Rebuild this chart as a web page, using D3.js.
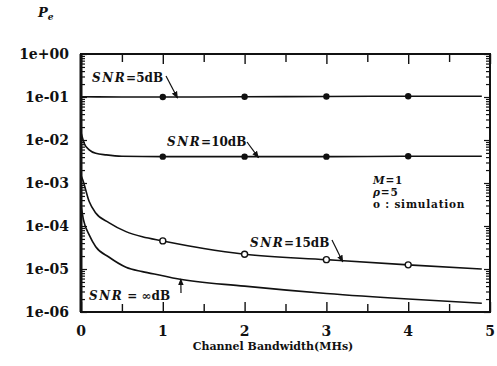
<!DOCTYPE html>
<html>
<head>
<meta charset="utf-8">
<script src="https://cdn.jsdelivr.net/npm/d3@7"></script>
<style>
  html, body { margin: 0; padding: 0; background: #fff; }
  svg { display: block; }
  text { font-family: "DejaVu Serif", serif; font-weight: bold; fill: #111; }
</style>
</head>
<body>
<svg id="chart" width="497" height="366"></svg>
<script>
// Error probability vs channel bandwidth for several SNR values
const xTickValues = [0, 1, 2, 3, 4, 5];
const yTickValues = [1, 1e-1, 1e-2, 1e-3, 1e-4, 1e-5, 1e-6];
const yTickLabels = ["1e+00", "1e-01", "1e-02", "1e-03", "1e-04", "1e-05", "1e-06"];

// analytic curves
const snr5X   = [0, 0.5, 1, 2, 3, 4, 4.9];
const snr5Y   = [0.101, 0.1, 0.1, 0.101, 0.103, 0.104, 0.104];
const snr10X  = [0, 0.04, 0.1, 0.18, 0.31, 0.5, 1, 2, 3, 4, 4.9];
const snr10Y  = [0.015, 0.0083, 0.0059, 0.0049, 0.0045, 0.0042, 0.0041, 0.0041, 0.0041, 0.0042, 0.0042];
const snr15X  = [0, 0.02, 0.1, 0.18, 0.34, 0.55, 0.75, 1, 1.5, 2, 3, 4, 4.9];
const snr15Y  = [1.5e-3, 1.2e-3, 3.7e-4, 2.0e-4, 1.2e-4, 7.4e-5, 5.6e-5, 4.5e-5, 3.0e-5, 2.2e-5, 1.65e-5, 1.25e-5, 1.0e-5];
const snrInfX = [0, 0.03, 0.1, 0.18, 0.34, 0.55, 0.75, 1, 1.16, 2, 3, 4, 4.9];
const snrInfY = [3e-4, 1.4e-4, 6.2e-5, 3.3e-5, 1.9e-5, 1.1e-5, 8.7e-6, 7.0e-6, 6.0e-6, 4.0e-6, 2.7e-6, 2.0e-6, 1.6e-6];

// simulation points
const simX     = [1, 2, 3, 4];
const sim5Y    = [0.1, 0.101, 0.103, 0.104];
const sim10Y   = [0.0041, 0.0041, 0.0041, 0.0042];
const sim15Y   = [4.5e-5, 2.2e-5, 1.65e-5, 1.25e-5];

const W = 497, H = 366;
const margin = { left: 81, top: 54, right: 7, bottom: 54 };
const svg = d3.select("#chart");

const x = d3.scaleLinear().domain([0, 5]).range([margin.left, W - margin.right]);
const y = d3.scaleLog().domain([1e-6, 1]).range([H - margin.bottom, margin.top]);

const x0 = x.range()[0], x1 = x.range()[1];
const yTop = y.range()[1], yBot = y.range()[0];

// minor decade ticks on both sides
const minorY = [];
for (let e = -6; e < 0; e++) for (let m = 2; m <= 9; m++) minorY.push(m * Math.pow(10, e));

// left & right y ticks (inward)
const leftAxis = d3.axisRight(y).tickValues(yTickValues).tickSize(6).tickFormat("");
const leftMinor = d3.axisRight(y).tickValues(minorY).tickSize(4).tickFormat("");
const rightAxis = d3.axisLeft(y).tickValues(yTickValues).tickSize(6).tickFormat("");
const rightMinor = d3.axisLeft(y).tickValues(minorY).tickSize(4).tickFormat("");
[[leftAxis, x0], [leftMinor, x0], [rightAxis, x1], [rightMinor, x1]].forEach(([ax, px]) => {
  const g = svg.append("g").attr("transform", `translate(${px},0)`).call(ax);
  g.select(".domain").remove();
  g.selectAll("line").attr("stroke", "#111").attr("stroke-width", 1.2);
});

// bottom & top x ticks (inward)
const minorX = [0.5, 1.5, 2.5, 3.5, 4.5];
const bottomMajor = d3.axisTop(x).tickValues(xTickValues).tickSize(10).tickFormat("");
const bottomMinor = d3.axisTop(x).tickValues(minorX).tickSize(8).tickFormat("");
const topMajor = d3.axisBottom(x).tickValues(xTickValues).tickSize(10).tickFormat("");
const topMinor = d3.axisBottom(x).tickValues(minorX).tickSize(8).tickFormat("");
[[bottomMajor, yBot], [bottomMinor, yBot], [topMajor, yTop], [topMinor, yTop]].forEach(([ax, py]) => {
  const g = svg.append("g").attr("transform", `translate(0,${py})`).call(ax);
  g.select(".domain").remove();
  g.selectAll("line").attr("stroke", "#111").attr("stroke-width", 1.4);
});

// frame
svg.append("rect")
  .attr("x", x0).attr("y", yTop)
  .attr("width", x1 - x0).attr("height", yBot - yTop)
  .attr("fill", "none").attr("stroke", "#111").attr("stroke-width", 2);
svg.append("line").attr("x1", x0).attr("x2", x0).attr("y1", yTop).attr("y2", yBot)
  .attr("stroke", "#111").attr("stroke-width", 3);

// tick labels
svg.append("g").selectAll("text").data(yTickValues).join("text")
  .attr("x", 69).attr("y", d => y(d) + 5)
  .attr("text-anchor", "end").attr("font-size", 14)
  .text((d, i) => yTickLabels[i]);

svg.append("g").selectAll("text").data(xTickValues).join("text")
  .attr("x", d => x(d)).attr("y", 336)
  .attr("text-anchor", "middle").attr("font-size", 14)
  .text(d => d);

// axis titles
svg.append("text").attr("x", 273).attr("y", 350)
  .attr("text-anchor", "middle").attr("font-size", 11)
  .text("Channel Bandwidth(MHs)");

const pe = svg.append("text").attr("x", 38).attr("y", 17).attr("font-size", 13);
pe.append("tspan").attr("font-style", "italic").text("P");
pe.append("tspan").attr("font-style", "italic").attr("font-size", 9).attr("dy", 3).text("e");

// curves
const line = d3.line().x(d => x(d[0])).y(d => y(d[1])).curve(d3.curveMonotoneX);
const curves = [[snr5X, snr5Y], [snr10X, snr10Y], [snr15X, snr15Y], [snrInfX, snrInfY]];
svg.append("g").selectAll("path").data(curves).join("path")
  .attr("d", ([xs, ys]) => line(xs.map((v, i) => [v, ys[i]])))
  .attr("fill", "none").attr("stroke", "#111").attr("stroke-width", 1.6);

// simulation markers
[sim5Y, sim10Y].forEach(ys => {
  svg.append("g").selectAll("circle").data(simX).join("circle")
    .attr("cx", d => x(d)).attr("cy", (d, i) => y(ys[i])).attr("r", 3.2)
    .attr("fill", "#111");
});
svg.append("g").selectAll("circle").data(simX).join("circle")
  .attr("cx", d => x(d)).attr("cy", (d, i) => y(sim15Y[i])).attr("r", 3)
  .attr("fill", "#fff").attr("stroke", "#111").attr("stroke-width", 1.4);

// curve annotations with pointer arrows
svg.append("defs").append("marker")
  .attr("id", "head").attr("viewBox", "0 0 10 10").attr("refX", 9).attr("refY", 5)
  .attr("markerWidth", 6).attr("markerHeight", 6).attr("orient", "auto")
  .append("path").attr("d", "M0,1 L10,5 L0,9 Z").attr("fill", "#111");

function snrLabel(px, py, rest) {
  const t = svg.append("text").attr("x", px).attr("y", py).attr("font-size", 12);
  t.append("tspan").attr("font-style", "italic").attr("letter-spacing", 1.5).text("SNR");
  t.append("tspan").text(rest);
  return t;
}
function arrow(ax, ay, bx, by) {
  svg.append("line").attr("x1", ax).attr("y1", ay).attr("x2", bx).attr("y2", by)
    .attr("stroke", "#111").attr("stroke-width", 1.2).attr("marker-end", "url(#head)");
}

snrLabel(92, 82, "=5dB");
arrow(166, 76, x(1.18), y(0.1) + 1);

snrLabel(167, 146, "=10dB");
arrow(247, 142, x(2.17), y(0.0041) + 1);

snrLabel(250, 247, "=15dB");
arrow(332, 240, x(3.2), y(1.55e-5) + 1);

snrLabel(89, 300, " = ∞dB");
arrow(181, 293, x(1.22), y(6.2e-6) + 1);

// parameter notes
const notes = svg.append("g").attr("font-size", 10.5).attr("letter-spacing", 0.8);
const m = notes.append("text").attr("x", 373).attr("y", 183.5);
m.append("tspan").attr("font-style", "italic").text("M");
m.append("tspan").text("=1");
const r = notes.append("text").attr("x", 373).attr("y", 195.8);
r.append("tspan").attr("font-style", "italic").text("ρ");
r.append("tspan").text("=5");
notes.append("text").attr("x", 373).attr("y", 208).text("o : simulation");
</script>
</body>
</html>
